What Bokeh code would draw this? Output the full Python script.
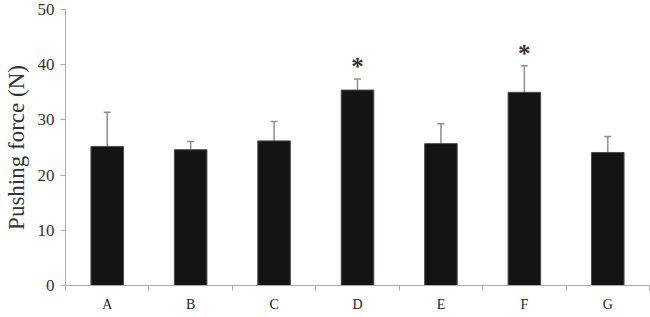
from bokeh.plotting import figure
from bokeh.models import ColumnDataSource, Whisker, FixedTicker, Range1d
from bokeh.core.properties import value
from bokeh.embed import file_html
from bokeh.resources import INLINE

categories = ["A", "B", "C", "D", "E", "F", "G"]
means = [25.2, 24.6, 26.2, 35.4, 25.7, 35.0, 24.1]
sds = [6.2, 1.5, 3.5, 2.0, 3.6, 4.8, 2.9]
significant = [False, False, False, True, False, True, False]
y_ticks = [0, 10, 20, 30, 40, 50]

xs = [i + 0.5 for i in range(len(categories))]
uppers = [m + s for m, s in zip(means, sds)]
src = ColumnDataSource(dict(x=xs, top=means, upper=uppers))

p = figure(width=650, height=317, output_backend="svg", toolbar_location=None,
           x_range=Range1d(0, len(categories)), y_range=Range1d(0, 50),
           min_border_left=64, min_border_right=1, min_border_top=9, min_border_bottom=32)
p.outline_line_color = None
p.grid.visible = False
p.background_fill_color = "white"
p.border_fill_color = "white"

p.vbar(x="x", top="top", bottom=0, width=0.39, source=src,
       fill_color="#121416", line_color="#4a4a4a", line_width=1)

w = Whisker(base="x", lower="top", upper="upper", source=src,
            line_color="#8e8e8e", line_width=1.5)
w.lower_head = None
w.upper_head.size = 7
w.upper_head.line_color = "#8e8e8e"
w.upper_head.line_width = 1.5
p.add_layout(w)

sx = [x for x, s in zip(xs, significant) if s]
sy = [u + 2.3 for u, s in zip(uppers, significant) if s]
p.text(x=sx, y=sy, text=["*"] * len(sx), text_align="center", text_baseline="middle",
       text_font=value("Liberation Serif"), text_font_size="25px", text_font_style="bold",
       text_color="#333333")

# x axis
xa = p.xaxis[0]
xa.ticker = FixedTicker(ticks=xs, minor_ticks=list(range(len(categories) + 1)))
xa.major_label_overrides = {x: c for x, c in zip(xs, categories)}
xa.major_tick_line_color = None
xa.minor_tick_out = 5
xa.minor_tick_in = 0
xa.minor_tick_line_color = "#aaaaaa"
xa.axis_line_color = "#aaaaaa"
xa.major_label_text_font = "Liberation Serif"
xa.major_label_text_font_size = "14px"
xa.major_label_text_color = "#222222"
xa.major_label_standoff = 5

ya = p.yaxis[0]
ya.ticker = FixedTicker(ticks=y_ticks)
ya.minor_tick_line_color = None
ya.major_tick_out = 5
ya.major_tick_in = 0
ya.major_tick_line_color = "#aaaaaa"
ya.axis_line_color = "#aaaaaa"
ya.major_label_text_font = "Liberation Serif"
ya.major_label_text_font_size = "17px"
ya.major_label_text_color = "#333333"
ya.major_label_standoff = 6
ya.axis_label = "Pushing force (N)"
ya.axis_label_text_font = "Liberation Serif"
ya.axis_label_text_font_size = "23px"
ya.axis_label_text_font_style = "normal"
ya.axis_label_text_color = "#333333"
ya.axis_label_standoff = 6

open("out.html", "w").write(file_html(p, INLINE))
